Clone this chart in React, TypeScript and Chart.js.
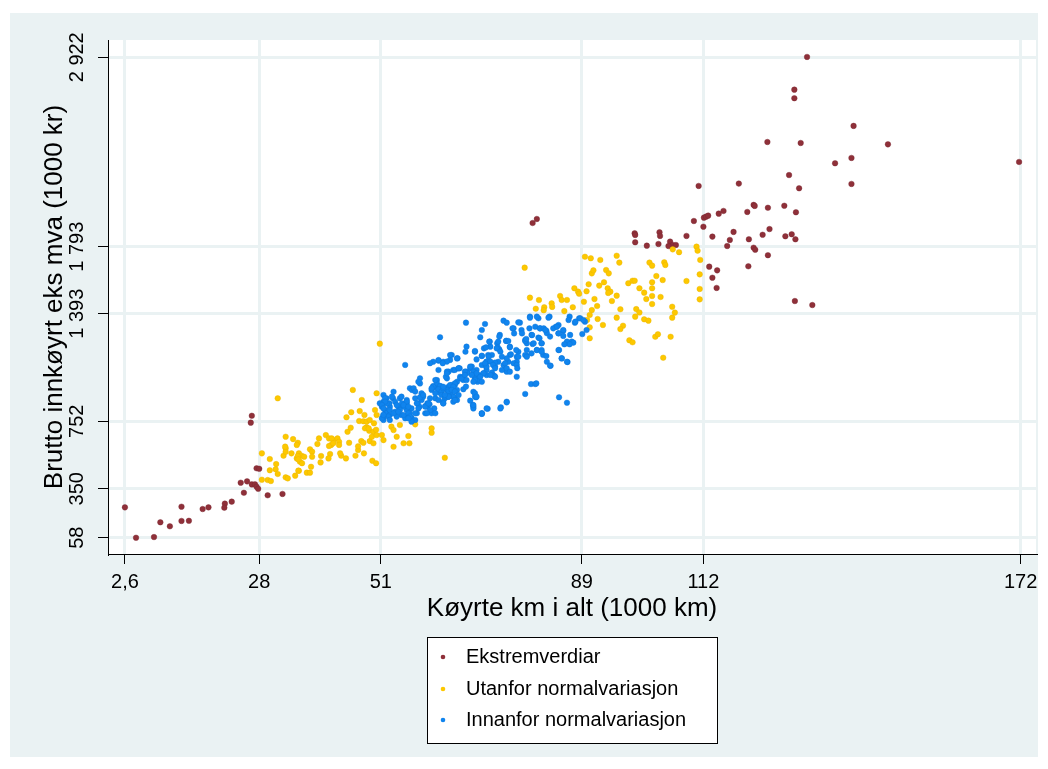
import React, { useEffect, useRef } from "react";
import { Chart, registerables } from "chart.js";

Chart.register(...registerables);

const xTickValues = [2.6, 28, 51, 89, 112, 172];
const xTickLabels = ["2,6", "28", "51", "89", "112", "172"];
const yTickValues = [58, 350, 752, 1393, 1793, 2922];
const yTickLabels = ["58", "350", "752", "1 393", "1 793", "2 922"];
const seriesNames = ["Ekstremverdiar", "Utanfor normalvariasjon", "Innanfor normalvariasjon"];
const xTitle = "Køyrte km i alt (1000 km)";
const yTitle = "Brutto innkøyrt eks mva (1000 kr)";

const extremePoints: [number, number][] = [
  [2.6, 239], [4.7, 58], [8.1, 62], [9.3, 150], [11.1, 126], [13.3, 243], [13.3, 158], [14.7, 159],
  [17.3, 229], [18.4, 239], [21.5, 261], [21.4, 237], [22.8, 273], [24.5, 386], [25.1, 326], [25.7, 394],
  [26.6, 376], [27.2, 376], [27.5, 362], [27.8, 350], [27.5, 472], [28.0, 469], [26.6, 785], [26.4, 744],
  [29.6, 311], [32.4, 319],
  [79.7, 1934], [80.5, 1958], [99.0, 1873], [99.1, 1863], [99.1, 1819], [101.3, 1799], [103.5, 1809],
  [103.7, 1879], [103.8, 1857], [105.7, 1823], [106.2, 1803], [106.8, 1803], [105.4, 1797], [108.8, 1857],
  [110.2, 1946], [112.0, 1912], [113.7, 1853], [113.1, 1674], [113.7, 1608], [114.5, 1547],
  [111.1, 2155], [112.1, 1966], [112.5, 1972], [112.9, 1978], [114.9, 1990], [115.8, 2006], [117.7, 1881],
  [117.0, 1833], [116.5, 1797], [118.7, 2169], [120.3, 2000], [121.5, 2042], [121.7, 2036], [124.2, 2025],
  [124.5, 1898], [123.2, 1864], [120.6, 1837], [121.5, 1787], [121.8, 1775], [124.2, 1742], [114.6, 1652],
  [120.5, 1676],
  [124.1, 2417], [130.4, 2411], [136.9, 2290], [128.2, 2220], [130.1, 2141], [127.3, 2037], [129.5, 1998],
  [127.5, 1855], [128.7, 1867], [129.4, 1837], [129.3, 1469], [132.6, 1445],
  [131.6, 2924], [129.2, 2729], [129.2, 2678], [140.4, 2513], [146.9, 2403], [171.7, 2298], [140.0, 2322],
  [140.0, 2167],
];

const outsidePoints: [number, number][] = [
  [31.5, 889], [28.5, 561], [30.0, 527], [31.2, 497], [31.1, 466], [30.0, 460], [31.5, 438], [28.5, 404],
  [29.6, 402], [30.2, 396], [33.0, 418], [33.4, 412], [34.8, 428], [35.5, 457], [37.0, 446], [37.6, 446],
  [32.6, 547], [33.0, 591], [33.0, 570], [33.0, 660], [34.4, 646], [35.3, 624], [34.1, 561], [35.5, 561],
  [35.1, 531], [36.0, 547], [35.7, 511], [36.5, 541], [36.1, 502], [37.6, 585], [38.0, 571], [38.0, 541],
  [37.8, 481], [39.0, 617], [39.3, 650], [39.7, 545], [39.6, 507], [40.6, 670], [41.2, 650], [41.6, 611],
  [41.2, 605], [41.4, 557], [41.1, 531], [42.0, 640], [42.8, 650], [43.1, 630], [43.1, 611], [43.5, 547],
  [44.4, 531], [45.0, 624], [46.2, 547], [46.7, 581], [46.7, 603], [47.3, 634], [47.7, 624], [47.8, 561],
  [48.9, 634], [49.6, 621], [49.4, 517], [50.1, 502], [44.5, 776], [45.4, 806], [44.7, 690], [45.3, 714],
  [47.0, 813], [47.9, 790], [46.9, 754], [47.7, 752], [48.3, 750], [48.9, 760], [47.4, 879], [45.7, 939],
  [49.7, 740], [48.3, 716], [48.8, 696], [49.6, 690], [50.1, 702], [50.2, 919], [49.9, 819], [50.2, 790],
  [49.3, 660],
  [35.1, 611], [32.9, 601], [35.3, 545], [35.4, 525], [35.4, 458], [41.7, 650], [42.0, 621], [43.3, 561],
  [48.0, 710], [48.7, 710], [50.2, 670],
  [50.8, 1215], [51.2, 670], [51.5, 640], [53.0, 720], [53.4, 700], [54.6, 730], [54.0, 660], [55.3, 621],
  [56.2, 664], [56.4, 621], [53.4, 600], [57.5, 734], [60.6, 710], [60.6, 684], [63.1, 535],
  [78.2, 1668], [79.2, 1489], [80.9, 1475], [80.3, 1423], [81.9, 1432], [81.8, 1414], [83.3, 1455],
  [83.4, 1434], [84.9, 1499], [85.2, 1475], [86.2, 1475], [85.7, 1409], [87.3, 1432], [87.6, 1545],
  [88.3, 1525], [88.5, 1512], [89.4, 1465], [89.9, 1527], [89.6, 1733], [90.7, 1724], [92.5, 1714],
  [95.6, 1739], [96.1, 1698], [90.9, 1634], [91.2, 1652], [90.3, 1569], [91.4, 1481], [91.9, 1439],
  [90.9, 1415], [90.5, 1386], [90.0, 1356], [92.0, 1362], [90.5, 1312], [90.5, 1247], [93.0, 1326],
  [92.3, 1561], [93.2, 1581], [93.6, 1654], [94.1, 1634], [93.9, 1545], [94.4, 1525], [94.0, 1517],
  [95.6, 1501], [94.7, 1469], [96.3, 1420], [95.6, 1370], [96.8, 1322], [96.3, 1302], [98.0, 1235],
  [98.6, 1223], [97.8, 1575], [98.6, 1590], [99.0, 1590], [99.9, 1545], [100.8, 1519], [101.2, 1481],
  [102.3, 1581], [102.3, 1545], [102.3, 1499], [102.3, 1451], [103.1, 1618], [104.3, 1594], [103.9, 1493],
  [101.8, 1698], [102.3, 1680], [104.6, 1700], [104.8, 1684], [99.3, 1421], [99.9, 1401], [99.1, 1376],
  [100.8, 1360], [101.6, 1352], [102.9, 1256], [103.4, 1271], [105.8, 1256], [104.4, 1131], [106.1, 1435],
  [106.6, 1400], [106.1, 1370], [106.2, 1777], [107.4, 1760], [108.8, 1588], [110.7, 1793], [110.9, 1769],
  [111.4, 1714], [111.3, 1628], [111.3, 1541], [111.3, 1479],
];

const insidePoints: [number, number][] = [
  [67.1, 1340], [70.7, 1332], [74.2, 1352], [74.8, 1340], [76.1, 1306], [77.3, 1340], [77.6, 1296],
  [79.2, 1376], [80.8, 1366], [80.2, 1316], [81.1, 1306], [82.3, 1292], [82.9, 1376], [84.1, 1316],
  [84.6, 1277], [85.5, 1292], [86.7, 1376], [87.7, 1340], [88.5, 1366], [86.8, 1267], [87.1, 1227],
  [86.2, 1217], [87.4, 1221], [89.1, 1272], [84.7, 1177], [85.2, 1128], [86.3, 1105], [83.1, 1083],
  [82.4, 1107], [81.7, 1147], [81.4, 1177], [80.5, 1177], [79.7, 1213], [79.5, 1267], [78.6, 1217],
  [78.3, 1237], [77.0, 1167], [78.6, 1143], [76.7, 1107], [76.7, 1018], [75.4, 1197], [75.4, 1147],
  [75.1, 1107], [74.5, 1068], [74.8, 1048], [74.7, 1232], [73.5, 1267], [73.0, 1217], [73.4, 1181],
  [73.2, 1107], [72.6, 1078], [72.0, 1042], [72.2, 1028], [71.7, 1197], [71.6, 1227], [71.3, 1147],
  [71.0, 1107], [70.9, 1078], [71.0, 1058], [69.8, 1253], [70.1, 1296], [70.5, 1187], [70.1, 1141],
  [69.1, 1121], [68.8, 1167], [68.2, 1078], [67.1, 1048], [67.2, 1197], [67.0, 1167], [65.5, 1128],
  [64.4, 1147], [65.9, 1068], [66.0, 1018], [65.4, 988], [64.7, 1058], [63.8, 1048], [63.5, 1008],
  [62.2, 1253], [62.8, 1107], [61.9, 1058], [61.6, 998], [61.9, 1113], [60.9, 1107], [60.3, 1098],
  [62.5, 958], [62.2, 922], [63.5, 899], [64.4, 939], [65.0, 889], [65.0, 968], [63.8, 958], [63.0, 948],
  [61.6, 949], [60.9, 962], [60.6, 939], [61.3, 889], [61.9, 879], [62.8, 859], [66.6, 1018], [66.6, 943],
  [68.5, 928], [69.0, 895], [68.4, 849], [68.5, 839], [70.1, 796], [71.2, 827], [73.7, 835], [74.8, 869],
  [78.3, 915], [79.4, 974], [80.2, 974], [84.7, 895], [86.2, 863], [58.4, 1008], [58.4, 978], [56.5, 949],
  [56.9, 939], [55.6, 1088], [60.3, 889], [59.8, 859], [58.7, 879], [58.0, 859], [57.5, 889], [56.8, 829],
  [55.9, 819], [56.2, 790], [56.8, 773], [57.8, 800], [59.4, 800], [59.8, 839], [54.6, 889], [55.0, 859],
  [54.3, 839], [53.4, 928], [53.3, 889], [52.7, 839], [53.7, 809], [54.9, 790], [55.6, 770], [51.5, 909],
  [51.5, 869], [51.2, 839], [51.8, 819], [51.5, 790], [52.1, 800], [52.7, 790], [51.5, 760],
  [61.6, 978], [62.2, 963], [61.9, 943], [62.5, 929], [61.3, 919], [64.1, 919], [64.7, 899], [65.4, 879],
  [63.5, 939], [58.7, 919], [59.0, 899], [60.2, 853], [59.4, 843], [55.9, 859], [55.3, 839], [54.6, 819],
  [52.6, 859], [52.1, 859], [50.8, 859], [52.4, 780], [54.0, 780], [56.5, 800], [57.5, 760], [60.6, 800],
  [61.1, 829], [67.9, 875], [67.1, 959], [67.4, 1042], [69.3, 988], [69.6, 998], [71.0, 1028], [72.5, 1022],
  [72.6, 1102], [73.9, 1058], [74.2, 1088], [76.1, 1098], [76.7, 1137], [79.5, 1157], [81.4, 1217],
  [82.4, 1277], [83.0, 1257], [83.6, 1306], [84.6, 1326], [85.5, 1261], [89.6, 1346], [89.9, 1296],
  [78.6, 1177], [78.3, 1147], [52.1, 889], [55.9, 879], [58.4, 895], [58.3, 839], [53.7, 869], [51.5, 780],
  [52.7, 760], [56.8, 750],
  [61.9, 1117], [63.5, 1048], [63.3, 1018], [65.0, 1058], [65.7, 1068], [64.1, 1118], [65.4, 1127],
  [66.9, 1048], [67.9, 1068], [69.1, 1058], [70.1, 1088], [68.8, 1038], [66.0, 1008], [66.6, 998],
  [68.8, 1008], [69.5, 1028], [70.4, 1038], [70.1, 988], [58.1, 988], [61.3, 998], [60.9, 958], [60.6, 949],
  [62.8, 949], [64.4, 968], [65.0, 978], [64.7, 949], [65.4, 939], [63.8, 929], [62.5, 909], [63.1, 889],
  [63.8, 899], [64.7, 869], [62.8, 869], [68.8, 899], [68.5, 829], [70.1, 800], [57.2, 949], [57.5, 929],
  [59.0, 909], [53.1, 899], [51.8, 889], [54.9, 899], [55.9, 869], [54.0, 849], [55.3, 849], [56.2, 839],
  [57.8, 859], [58.1, 829], [51.8, 869], [51.2, 849], [51.5, 829], [52.7, 819], [53.4, 800], [54.3, 809],
  [55.3, 790], [56.2, 800], [56.5, 780], [57.5, 800], [56.2, 770], [59.4, 839], [60.0, 859], [60.3, 819],
  [59.7, 800], [61.3, 800], [51.2, 770], [51.5, 790],
  [71.5, 1227], [70.9, 1193], [73.4, 1257], [73.2, 1227], [73.1, 1193], [74.7, 1231], [75.1, 1231],
  [75.4, 1193], [75.6, 1151], [75.9, 1306], [76.2, 1276], [77.0, 1342], [77.7, 1276], [78.3, 1231],
  [78.5, 1243], [79.1, 1306], [79.6, 1266], [79.9, 1217], [80.8, 1251], [81.1, 1306], [81.8, 1306],
  [82.1, 1296], [81.0, 1247], [81.4, 1217], [79.2, 1370], [80.5, 1376], [82.7, 1370], [84.3, 1316],
  [84.6, 1276], [85.5, 1296], [86.5, 1356], [87.8, 1346], [88.7, 1366], [89.3, 1356], [86.2, 1227],
  [86.7, 1211], [85.7, 1211], [84.6, 1177], [85.2, 1127], [86.2, 1107], [83.0, 1084], [80.5, 1177],
  [81.4, 1167], [82.3, 1141], [78.6, 1137], [76.6, 1177], [77.0, 1137], [76.7, 1088], [76.8, 1068],
  [74.8, 1127], [74.5, 1098], [74.8, 1068], [75.4, 1048], [72.9, 1187], [73.6, 1167], [73.9, 1137],
  [72.0, 1147], [71.4, 1137], [71.0, 1108], [71.7, 1108], [72.2, 1088], [72.6, 1068], [72.6, 1018],
  [71.7, 1028], [71.0, 1078], [70.4, 1038], [70.7, 1098], [68.8, 1171], [70.1, 1143], [67.9, 1078],
  [68.5, 1048], [69.1, 1038], [68.2, 1028], [69.8, 1018], [68.8, 998], [64.1, 1147], [65.7, 1068],
  [63.5, 1108], [62.7, 1098], [63.5, 1038], [64.1, 968], [64.7, 958], [64.4, 939], [65.0, 929], [63.8, 899],
  [62.8, 958], [63.1, 909], [62.8, 859], [66.3, 1008], [66.9, 1028], [67.2, 998], [68.5, 988], [65.7, 909],
  [65.0, 879], [68.8, 919], [69.1, 899], [68.5, 849], [71.0, 829], [70.1, 799], [73.6, 829], [74.8, 865],
  [80.4, 978],
];

const seriesColors = ["#8f3039", "#fdc800", "#1084ee"];
const FONT = '"Liberation Sans", Arial, Helvetica, sans-serif';

export default function App() {
  const ref = useRef<HTMLCanvasElement>(null);

  useEffect(() => {
    const canvas = ref.current;
    if (!canvas) return;
    const toXY = (arr: [number, number][]) => arr.map(([x, y]) => ({ x, y }));

    const decorPlugin = {
      id: "decor",
      beforeDraw(chart: any) {
        const { ctx, chartArea } = chart;
        ctx.save();
        ctx.fillStyle = "#ffffff";
        ctx.fillRect(0, 0, chart.width, chart.height);
        ctx.fillStyle = "#eaf2f3";
        ctx.fillRect(10, 13, 1028, 744);
        ctx.fillStyle = "#ffffff";
        ctx.fillRect(chartArea.left, chartArea.top, chartArea.right - chartArea.left, chartArea.bottom - chartArea.top);
        ctx.restore();
      },
      afterDraw(chart: any) {
        const ctx = chart.ctx;
        const ys = chart.scales.y;
        ctx.save();
        ctx.font = `20px ${FONT}`;
        ctx.fillStyle = "#000";
        ctx.textAlign = "center";
        ctx.textBaseline = "middle";
        yTickValues.forEach((v, i) => {
          const py = ys.getPixelForValue(v);
          ctx.save();
          ctx.translate(77, py);
          ctx.rotate(-Math.PI / 2);
          ctx.fillText(yTickLabels[i], 0, 0);
          ctx.restore();
        });
        // legend
        ctx.fillStyle = "#ffffff";
        ctx.fillRect(427, 637, 290, 106);
        ctx.strokeStyle = "#000";
        ctx.lineWidth = 1;
        ctx.strokeRect(427.5, 637.5, 290, 106);
        const rows = [657, 689, 720];
        seriesNames.forEach((name, i) => {
          ctx.beginPath();
          ctx.fillStyle = seriesColors[i];
          ctx.arc(443, rows[i], 2.3, 0, Math.PI * 2);
          ctx.fill();
          ctx.fillStyle = "#000";
          ctx.textAlign = "left";
          ctx.fillText(name, 466, rows[i]);
        });
        ctx.restore();
      },
    };

    const chart = new Chart(canvas, {
      type: "scatter",
      data: {
        datasets: [
          { label: seriesNames[0], data: toXY(extremePoints), backgroundColor: seriesColors[0], borderColor: "#7a2530", borderWidth: 0.4, pointRadius: 2.8, order: 3 },
          { label: seriesNames[1], data: toXY(outsidePoints), backgroundColor: seriesColors[1], borderColor: "#e8b400", borderWidth: 0.4, pointRadius: 2.8, order: 2 },
          { label: seriesNames[2], data: toXY(insidePoints), backgroundColor: seriesColors[2], borderColor: "#0c74d6", borderWidth: 0.4, pointRadius: 2.8, order: 1 },
        ],
      },
      options: {
        responsive: false,
        animation: false,
        devicePixelRatio: 1,
        events: [],
        layout: { padding: { left: 0, top: 40, right: 12, bottom: 145 } },
        plugins: { legend: { display: false }, tooltip: { enabled: false } },
        scales: {
          x: {
            type: "linear",
            min: -0.6,
            max: 174.9,
            afterBuildTicks: (scale: any) => {
              scale.ticks = xTickValues.map((v) => ({ value: v }));
            },
            afterFit: (scale: any) => {
              scale.height = 70;
            },
            ticks: {
              autoSkip: false,
              maxRotation: 0,
              padding: 6,
              color: "#000",
              font: { family: FONT, size: 20 },
              callback: (v: any) => {
                const i = xTickValues.indexOf(Number(v));
                return i >= 0 ? xTickLabels[i] : "";
              },
            },
            grid: { color: "#eaf2f3", lineWidth: 3, tickColor: "#000", tickWidth: 1, tickLength: 10 },
            border: { display: true, color: "#000", width: 1 },
            title: { display: true, text: xTitle, color: "#000", font: { family: FONT, size: 26 }, padding: { top: 0, bottom: 0 } },
          },
          y: {
            type: "linear",
            min: -39,
            max: 3025,
            afterBuildTicks: (scale: any) => {
              scale.ticks = yTickValues.map((v) => ({ value: v }));
            },
            afterFit: (scale: any) => {
              scale.width = 108;
            },
            ticks: { display: false },
            grid: { color: "#eaf2f3", lineWidth: 3, tickColor: "#000", tickWidth: 1, tickLength: 10 },
            border: { display: true, color: "#000", width: 1 },
            title: { display: true, text: yTitle, color: "#000", font: { family: FONT, size: 26 }, padding: { top: 39, bottom: 0 } },
          },
        },
      },
      plugins: [decorPlugin],
    } as any);

    return () => chart.destroy();
  }, []);

  return (
    <div style={{ position: "absolute", left: 0, top: 0, width: 1048, height: 769 }}>
      <canvas ref={ref} width={1048} height={769} style={{ width: 1048, height: 769, display: "block" }} />
    </div>
  );
}
